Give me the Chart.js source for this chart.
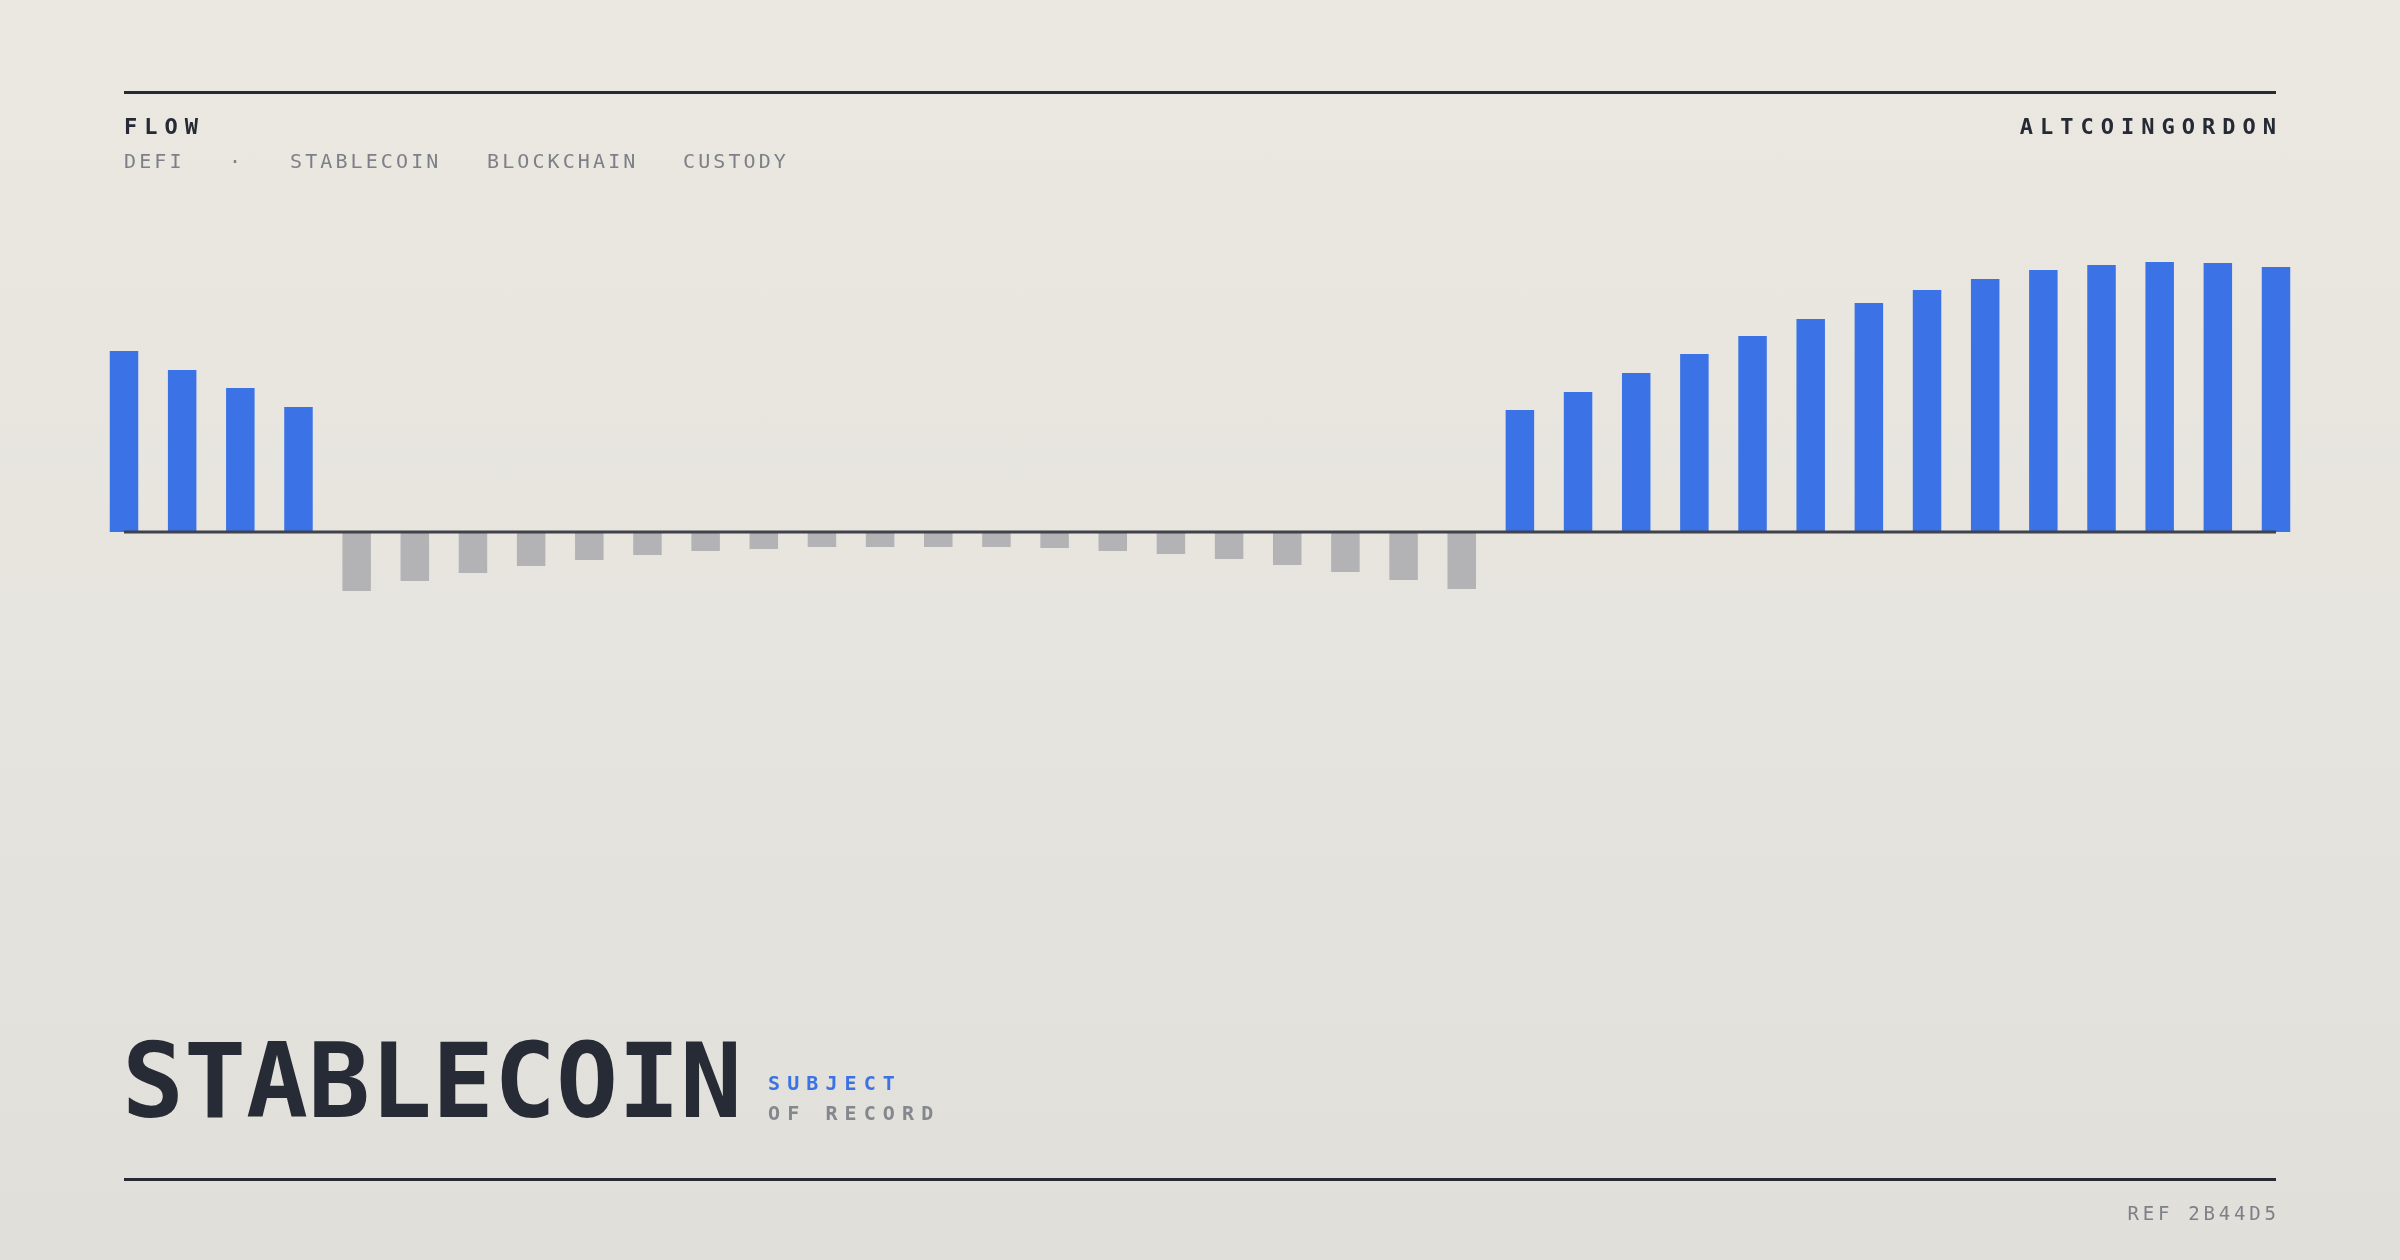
<!DOCTYPE html>
<html>
<head>
<meta charset="utf-8">
<script src="https://cdn.jsdelivr.net/npm/chart.js@4.4.1/dist/chart.umd.min.js"></script>
<style>
  html, body { margin:0; padding:0; }
  body { width:2400px; height:1260px; position:relative; overflow:hidden;
         background: linear-gradient(180deg, #ebe8e1 0%, #e6e4de 55%, #e0dfd9 100%);
         font-family: "DejaVu Sans Mono", monospace; }
  #chart { position:absolute; left:0; top:0; }
  .rule { position:absolute; left:124px; width:2152px; height:3px; background:#262a33; }
  .t { position:absolute; white-space:nowrap; line-height:1; }
  .kicker { font-size:22px; font-weight:700; letter-spacing:7px; color:#262a34; }
  .tag { font-size:20px; font-weight:400; letter-spacing:3.1px; color:#7e8088; }
  .ref { font-size:19px; font-weight:400; letter-spacing:3.8px; color:#7e8088; }
  .title { font-size:103px; font-weight:700; letter-spacing:0px; color:#272b35; }
  .sub { font-size:20px; font-weight:700; letter-spacing:7.1px; }
</style>
</head>
<body>
<canvas id="chart" width="2400" height="1260"></canvas>

<div class="rule" style="top:91px"></div>
<div class="t kicker" style="left:124px; top:116px">FLOW</div>
<div class="t kicker" style="right:124px; top:116px; margin-right:-7px">ALTCOINGORDON</div>

<div class="t tag" style="left:124px; top:151px">DEFI</div>
<div class="t tag" style="left:229px; top:151px">·</div>
<div class="t tag" style="left:290px; top:151px">STABLECOIN</div>
<div class="t tag" style="left:487px; top:151px">BLOCKCHAIN</div>
<div class="t tag" style="left:683px; top:151px">CUSTODY</div>

<div class="t title" style="left:122px; top:1030px">STABLECOIN</div>
<div class="t sub" style="left:768px; top:1073px; color:#3b73e6">SUBJECT</div>
<div class="t sub" style="left:768px; top:1103px; color:#85878f">OF RECORD</div>

<div class="rule" style="top:1178px"></div>
<div class="t ref" style="right:124px; top:1204px; margin-right:-3.8px">REF 2B44D5</div>

<script>
// ---- data ----
const periods = ['W01','W02','W03','W04','W05','W06','W07','W08','W09','W10',
                 'W11','W12','W13','W14','W15','W16','W17','W18','W19','W20',
                 'W21','W22','W23','W24','W25','W26','W27','W28','W29','W30',
                 'W31','W32','W33','W34','W35','W36','W37','W38'];
const netFlow = [18.1, 16.2, 14.4, 12.5,
                 -5.9, -4.9, -4.1, -3.4, -2.8, -2.3, -1.9, -1.7, -1.5, -1.5,
                 -1.5, -1.5, -1.6, -1.9, -2.2, -2.7, -3.3, -4.0, -4.8, -5.7,
                 12.2, 14.0, 15.9, 17.8, 19.6, 21.3, 22.9, 24.2, 25.3, 26.2,
                 26.7, 27.0, 26.9, 26.5];
const yRange = [-30, 30];

const INFLOW = '#3b73e6';
const OUTFLOW = '#b3b3b5';

const baseline = {
  id: 'baseline',
  afterDatasetsDraw(chart) {
    const {ctx, chartArea, scales} = chart;
    const y = scales.y.getPixelForValue(0);
    ctx.save();
    ctx.strokeStyle = '#40434b';
    ctx.lineWidth = 3;
    ctx.beginPath();
    ctx.moveTo(chartArea.left, y);
    ctx.lineTo(chartArea.right, y);
    ctx.stroke();
    ctx.restore();
  }
};

new Chart(document.getElementById('chart'), {
  type: 'bar',
  data: {
    labels: periods,
    datasets: [{
      data: netFlow,
      backgroundColor: netFlow.map(v => v >= 0 ? INFLOW : OUTFLOW),
      borderWidth: 0,
      barPercentage: 0.49,
      categoryPercentage: 1.0,
      clip: false
    }]
  },
  options: {
    responsive: false,
    devicePixelRatio: 1,
    animation: false,
    layout: { padding: { left: 124, right: 124, top: 232, bottom: 428 } },
    plugins: { legend: { display: false }, tooltip: { enabled: false } },
    scales: {
      x: { display: false, offset: false, grid: { display: false } },
      y: { display: false, min: yRange[0], max: yRange[1], grid: { display: false } }
    }
  },
  plugins: [baseline]
});
</script>
</body>
</html>
